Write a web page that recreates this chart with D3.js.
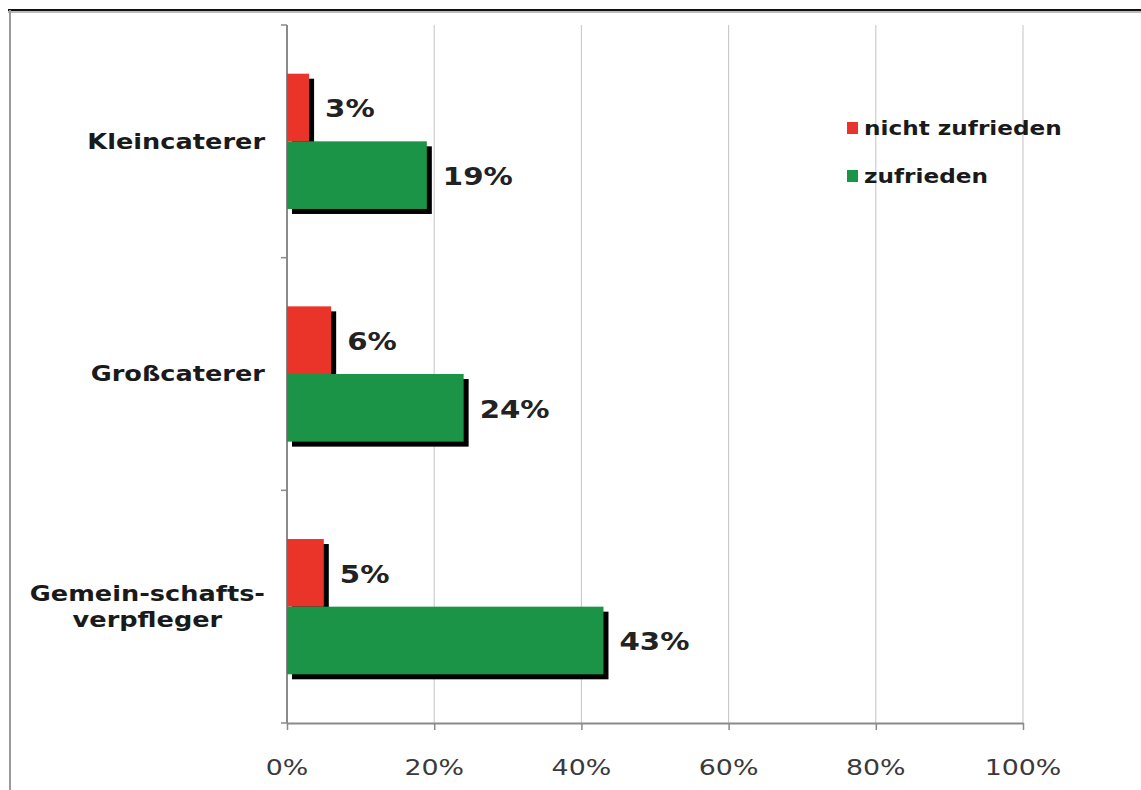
<!DOCTYPE html>
<html>
<head>
<meta charset="utf-8">
<script src="https://cdn.jsdelivr.net/npm/d3@7"></script>
<style>
  html, body { margin: 0; padding: 0; background: #fff; }
  svg { display: block; }
</style>
</head>
<body>
<svg id="chart" width="1141" height="790"></svg>
<script>
// Zufriedenheit je Anbietertyp (Anteil in %)
const categories = ["Kleincaterer", "Großcaterer", "Gemein-schafts-\nverpfleger"];
const seriesNames = ["nicht zufrieden", "zufrieden"];
const nichtZufrieden = [3, 6, 5];
const zufrieden = [19, 24, 43];
const tickValues = [0, 20, 40, 60, 80, 100];

const seriesValues = { "nicht zufrieden": nichtZufrieden, "zufrieden": zufrieden };
const colors = { "nicht zufrieden": "#ea3429", "zufrieden": "#1c9447" };
const stretch = 1.22;           // horizontal widening of the lettering
const font = "'DejaVu Sans', Verdana, sans-serif";

const svg = d3.select("#chart");
const plot = { left: 287, right: 1023, top: 25, bottom: 723 };

const x = d3.scaleLinear().domain([0, 100]).range([plot.left, plot.right]);
const y = d3.scaleBand().domain(categories).range([plot.top, plot.bottom]).padding(0);
const ySub = d3.scaleBand().domain(seriesNames).range([0, y.bandwidth()])
  .paddingInner(0).paddingOuter(0.72);

// text helper: places horizontally stretched text at (px, py)
function label(g, px, py, txt, opts) {
  const sx = opts.stretch || stretch;
  return g.append("text")
    .attr("transform", `translate(${px},${py}) scale(${sx},1)`)
    .attr("text-anchor", opts.anchor || "start")
    .attr("dominant-baseline", opts.baseline || "auto")
    .attr("font-family", font)
    .attr("font-size", opts.size)
    .attr("font-weight", opts.weight || "normal")
    .attr("fill", opts.fill || "#222")
    .text(txt);
}

// frame
svg.append("line").attr("x1", 8).attr("x2", 1141).attr("y1", 12).attr("y2", 12)
  .attr("stroke", "#bbb").attr("stroke-width", 2);
svg.append("line").attr("x1", 8).attr("x2", 1141).attr("y1", 10).attr("y2", 10)
  .attr("stroke", "#111").attr("stroke-width", 2);
svg.append("line").attr("x1", 10).attr("x2", 10).attr("y1", 10).attr("y2", 790)
  .attr("stroke", "#9a9a9a").attr("stroke-width", 2);

// vertical gridlines
svg.append("g").selectAll("line")
  .data(tickValues.filter(d => d > 0))
  .join("line")
  .attr("x1", d => x(d)).attr("x2", d => x(d))
  .attr("y1", plot.top).attr("y2", plot.bottom)
  .attr("stroke", "#c8c8c8").attr("stroke-width", 1.1);

// x axis
const xAxis = svg.append("g")
  .attr("transform", `translate(0,${plot.bottom})`)
  .call(d3.axisBottom(x).tickValues(tickValues).tickSize(7).tickSizeOuter(0).tickFormat(d => d + "%"));
xAxis.select(".domain").attr("stroke", "#8a8a8a").attr("stroke-width", 2);
xAxis.selectAll(".tick line").attr("stroke", "#8a8a8a").attr("stroke-width", 1.5);
xAxis.selectAll(".tick text").remove();
tickValues.forEach(v => label(svg, x(v), 775, v + "%", { anchor: "middle", size: 22, fill: "#3a3a3a" }));

// y axis
const yEdges = [plot.top, ...categories.map(c => y(c) + y.bandwidth())];
svg.append("line").attr("x1", plot.left).attr("x2", plot.left)
  .attr("y1", plot.top).attr("y2", plot.bottom)
  .attr("stroke", "#8a8a8a").attr("stroke-width", 2);
svg.append("g").selectAll("line").data(yEdges).join("line")
  .attr("x1", plot.left - 6).attr("x2", plot.left)
  .attr("y1", d => d).attr("y2", d => d)
  .attr("stroke", "#8a8a8a").attr("stroke-width", 1.5);

// bars with drop shadow
const rows = [];
categories.forEach((c, i) => seriesNames.forEach(s => rows.push({ cat: c, series: s, value: seriesValues[s][i] })));
const shadow = 5;
const bars = svg.append("g");
bars.selectAll("rect.shadow").data(rows).join("rect")
  .attr("class", "shadow")
  .attr("x", x(0) + shadow)
  .attr("y", d => y(d.cat) + ySub(d.series) + shadow)
  .attr("width", d => x(d.value) - x(0))
  .attr("height", ySub.bandwidth())
  .attr("fill", "#000");
bars.selectAll("rect.bar").data(rows).join("rect")
  .attr("class", "bar")
  .attr("x", x(0))
  .attr("y", d => y(d.cat) + ySub(d.series))
  .attr("width", d => x(d.value) - x(0))
  .attr("height", ySub.bandwidth())
  .attr("fill", d => colors[d.series]);

// value labels
rows.forEach(d => {
  label(svg, x(d.value) + shadow + 11, y(d.cat) + ySub(d.series) + ySub.bandwidth() / 2 + 1, d.value + "%",
    { size: 25, stretch: 1.17, weight: "bold", baseline: "central", fill: "#222" });
});

// category labels: lines centred on each other, block right-aligned
const catRight = 265;
const catSize = 21;
const lineH = 26;
categories.forEach(c => {
  const lines = c.split("\n");
  const cy = y(c) + y.bandwidth() / 2;
  const g = svg.append("g");
  const texts = lines.map((ln, k) => label(g, 0, cy + (k - (lines.length - 1) / 2) * lineH, ln,
    { size: catSize, weight: "bold", baseline: "central", anchor: "middle", fill: "#1a1a1a" }));
  const widths = texts.map(t => t.node().getComputedTextLength() * stretch);
  const maxW = d3.max(widths);
  const cx = catRight - maxW / 2;
  texts.forEach((t, k) => {
    const ty = cy + (k - (lines.length - 1) / 2) * lineH;
    t.attr("transform", `translate(${cx},${ty}) scale(${stretch},1)`);
  });
});

// legend
const legend = svg.append("g");
seriesNames.forEach((s, i) => {
  const ly = 128 + i * 48;
  legend.append("rect").attr("x", 847).attr("y", ly - 6).attr("width", 11).attr("height", 12)
    .attr("fill", colors[s]);
  label(legend, 864, ly, s, { size: 19, weight: "bold", baseline: "central", fill: "#1a1a1a" });
});
</script>
</body>
</html>
